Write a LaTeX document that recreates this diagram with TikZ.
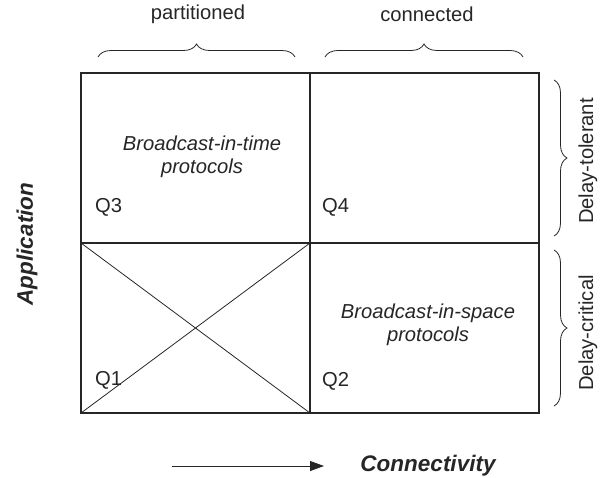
\documentclass[tikz,border=0pt]{standalone}
\usepackage{fontspec}
\setmainfont{Liberation Sans}
\usetikzlibrary{arrows.meta,decorations.pathreplacing}
\definecolor{ink}{HTML}{262626}
\begin{document}
\begin{tikzpicture}[x=1pt,y=-1pt,
  lbl/.style={font=\fontsize{20.2}{23.5}\selectfont, text=ink, inner sep=0pt},
  ital/.style={lbl, font=\fontsize{20.2}{23.5}\selectfont\itshape, align=center},
  bold/.style={lbl, font=\fontsize{22.5}{26}\selectfont\bfseries\itshape},
  frame/.style={draw=ink, line width=1.2pt},
  thin/.style={draw=ink, line width=0.8pt},
  brace/.style={draw=ink, line width=0.8pt, decorate, decoration={brace, amplitude=13pt}}]
\useasboundingbox (0,0) rectangle (601,477);
% grid corners
\coordinate (tl) at (81,73);
\coordinate (tm) at (310,73);
\coordinate (tr) at (539,73);
\coordinate (ml) at (81,243);
\coordinate (mm) at (310,243);
\coordinate (mr) at (539,243);
\coordinate (bl) at (81,413);
\coordinate (bm) at (310,413);
\coordinate (br) at (539,413);
% cross in Q1
\draw[thin] (ml) -- (bm);
\draw[thin] (mm) -- (bl);
% frame
\draw[frame] (tl) rectangle (br);
\draw[frame] (tm) -- (bm);
\draw[frame] (ml) -- (mr);
% quadrant labels
\node[lbl, anchor=west] (q3) at (95,207) {Q3};
\node[lbl, anchor=west] (q4) at (322,207) {Q4};
\node[lbl, anchor=west] (q1) at (95,380) {Q1};
\node[lbl, anchor=west] (q2) at (322,381) {Q2};
\node[ital] (bt) at (202,157) {Broadcast-in-time\\protocols};
\node[ital] (bs) at (428,325) {Broadcast-in-space\\protocols};
% top labels and braces
\node[lbl] (part) at (198,14) {partitioned};
\node[lbl] (conn) at (427,14) {connected};
\coordinate (pb1) at (98,57);
\coordinate (pb2) at (295,57);
\coordinate (cb1) at (325,57);
\coordinate (cb2) at (523,57);
\draw[brace] (pb1) -- (pb2);
\draw[brace] (cb1) -- (cb2);
% right braces and labels
\coordinate (rb1) at (554,80);
\coordinate (rb2) at (554,236);
\coordinate (rb3) at (554,250);
\coordinate (rb4) at (554,406);
\draw[brace] (rb1) -- (rb2);
\draw[brace] (rb3) -- (rb4);
\node[lbl, rotate=90] (dt) at (588,161) {Delay-tolerant};
\node[lbl, rotate=90] (dc) at (588,333) {Delay-critical};
% axis labels
\node[bold, rotate=90] (app) at (27,244) {Application};
\coordinate (a1) at (172,466);
\coordinate (a2) at (324,466);
\draw[thin, -{Triangle[length=14pt,width=10pt]}] (a1) -- (a2);
\node[bold] (connx) at (428,466) {Connectivity};
\end{tikzpicture}
\end{document}
